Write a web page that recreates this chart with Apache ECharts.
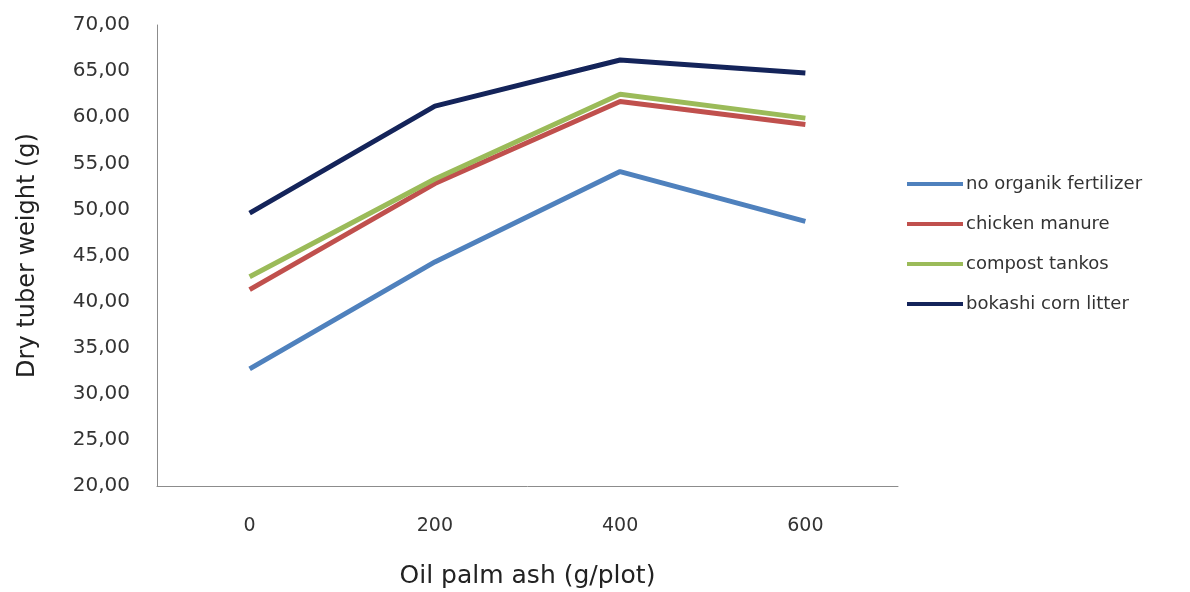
<!DOCTYPE html>
<html>
<head>
<meta charset="utf-8">
<script src="https://cdn.jsdelivr.net/npm/echarts@6/dist/echarts.min.js"></script>
<style>
  html, body { margin: 0; padding: 0; background: #fff; }
  #main { width: 1190px; height: 592px; }
</style>
</head>
<body>
<div id="main"></div>
<script>
// data
var categories = ['0', '200', '400', '600'];
var seriesNames = ['no organik fertilizer', 'chicken manure', 'compost tankos', 'bokashi corn litter'];
var noOrganik = [32.7, 44.3, 54.1, 48.7];
var chickenManure = [41.3, 52.8, 61.7, 59.2];
var compostTankos = [42.7, 53.3, 62.5, 59.9];
var bokashi = [49.6, 61.2, 66.2, 64.8];
var colors = ['#4f81bd', '#c0504d', '#9bbb59', '#14245a'];

var myChart = echarts.init(document.getElementById('main'));
var font = '"DejaVu Sans", Verdana, sans-serif';

function line(name, data, color) {
    return {
        name: name,
        type: 'line',
        data: data,
        symbol: 'none',
        lineStyle: { width: 5, color: color },
        itemStyle: { color: color }
    };
}

var option = {
    animation: false,
    grid: { left: 157, right: 292, top: 25, bottom: 106, outerBoundsMode: 'none' },
    legend: {
        orient: 'vertical',
        left: 902,
        top: 168,
        itemGap: 18,
        itemWidth: 56,
        itemHeight: 4,
        icon: 'rect',
        data: seriesNames,
        textStyle: { color: '#333', fontSize: 18, lineHeight: 22, fontFamily: font, padding: [0, 0, 0, -2] }
    },
    xAxis: {
        type: 'category',
        data: categories,
        name: 'Oil palm ash (g/plot)',
        nameLocation: 'middle',
        nameGap: 78,
        nameTextStyle: { fontSize: 25, color: '#222', fontFamily: font },
        axisLine: { lineStyle: { color: '#8c8c8c', width: 1 } },
        axisTick: { show: false },
        axisLabel: { fontSize: 19, color: '#333', margin: 31, fontFamily: font }
    },
    yAxis: {
        type: 'value',
        min: 20,
        max: 70,
        interval: 5,
        name: 'Dry tuber weight (g)',
        nameLocation: 'middle',
        nameGap: 117,
        nameTextStyle: { fontSize: 24, color: '#222', fontFamily: font },
        axisLine: { show: true, lineStyle: { color: '#8c8c8c', width: 1 } },
        axisTick: { show: false },
        splitLine: { show: false },
        axisLabel: {
            fontSize: 20, color: '#333', margin: 27, fontFamily: font,
            formatter: function (v) { return v.toFixed(2).replace('.', ','); }
        }
    },
    series: [
        line(seriesNames[0], noOrganik, colors[0]),
        line(seriesNames[1], chickenManure, colors[1]),
        line(seriesNames[2], compostTankos, colors[2]),
        line(seriesNames[3], bokashi, colors[3])
    ]
};

myChart.setOption(option);
</script>
</body>
</html>
